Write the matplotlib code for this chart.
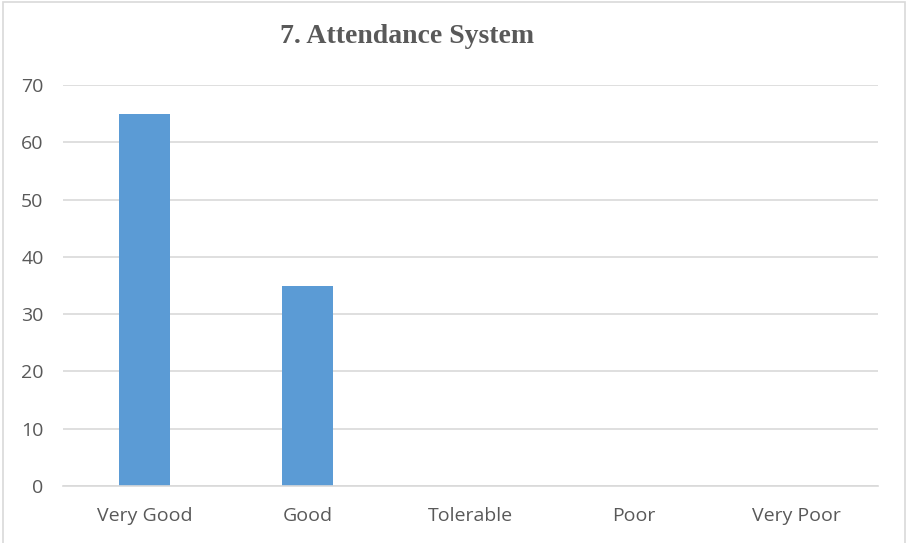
import matplotlib.pyplot as plt
from matplotlib.patches import Rectangle

# Data
categories = ['Very Good', 'Good', 'Tolerable', 'Poor', 'Very Poor']
values = [65, 35, 0, 0, 0]
yticks = [0, 10, 20, 30, 40, 50, 60, 70]

text_color = '#595959'
grid_color = '#d9d9d9'

fig = plt.figure(figsize=(9.07, 5.43), dpi=100)
ax = fig.add_axes([63 / 907, 1 - 486 / 543, 815 / 907, 401 / 543])

x = range(len(categories))
ax.bar(x, values, width=0.31, color='#5b9bd5', zorder=2)

ax.set_xlim(-0.5, len(categories) - 0.5)
ax.set_ylim(0, 70)
ax.set_yticks(yticks)
ax.set_xticks(list(x))
ax.set_xticklabels(categories)

ax.grid(axis='y', color=grid_color, linewidth=1.2, zorder=0)
for s in ['top', 'right', 'left']:
    ax.spines[s].set_visible(False)
ax.spines['bottom'].set_color(grid_color)
ax.spines['bottom'].set_linewidth(1.2)
ax.tick_params(length=0, colors=text_color, labelsize=14)
ax.tick_params(axis='y', pad=14)
ax.tick_params(axis='x', pad=15)
for lbl in ax.get_xticklabels() + ax.get_yticklabels():
    lbl.set_family('Open Sans')

fig.text(407 / 907, 1 - 36 / 543, '7. Attendance System', ha='center', va='center',
         fontsize=20, fontweight='bold', family='Liberation Serif', color=text_color)

# outer chart border
fig.patches.append(Rectangle((3 / 907, -0.01), 902 / 907, 1 - 2 / 543 + 0.01,
                             transform=fig.transFigure, fill=False,
                             edgecolor=grid_color, linewidth=1.2))

fig.savefig('out.png', dpi=100)
